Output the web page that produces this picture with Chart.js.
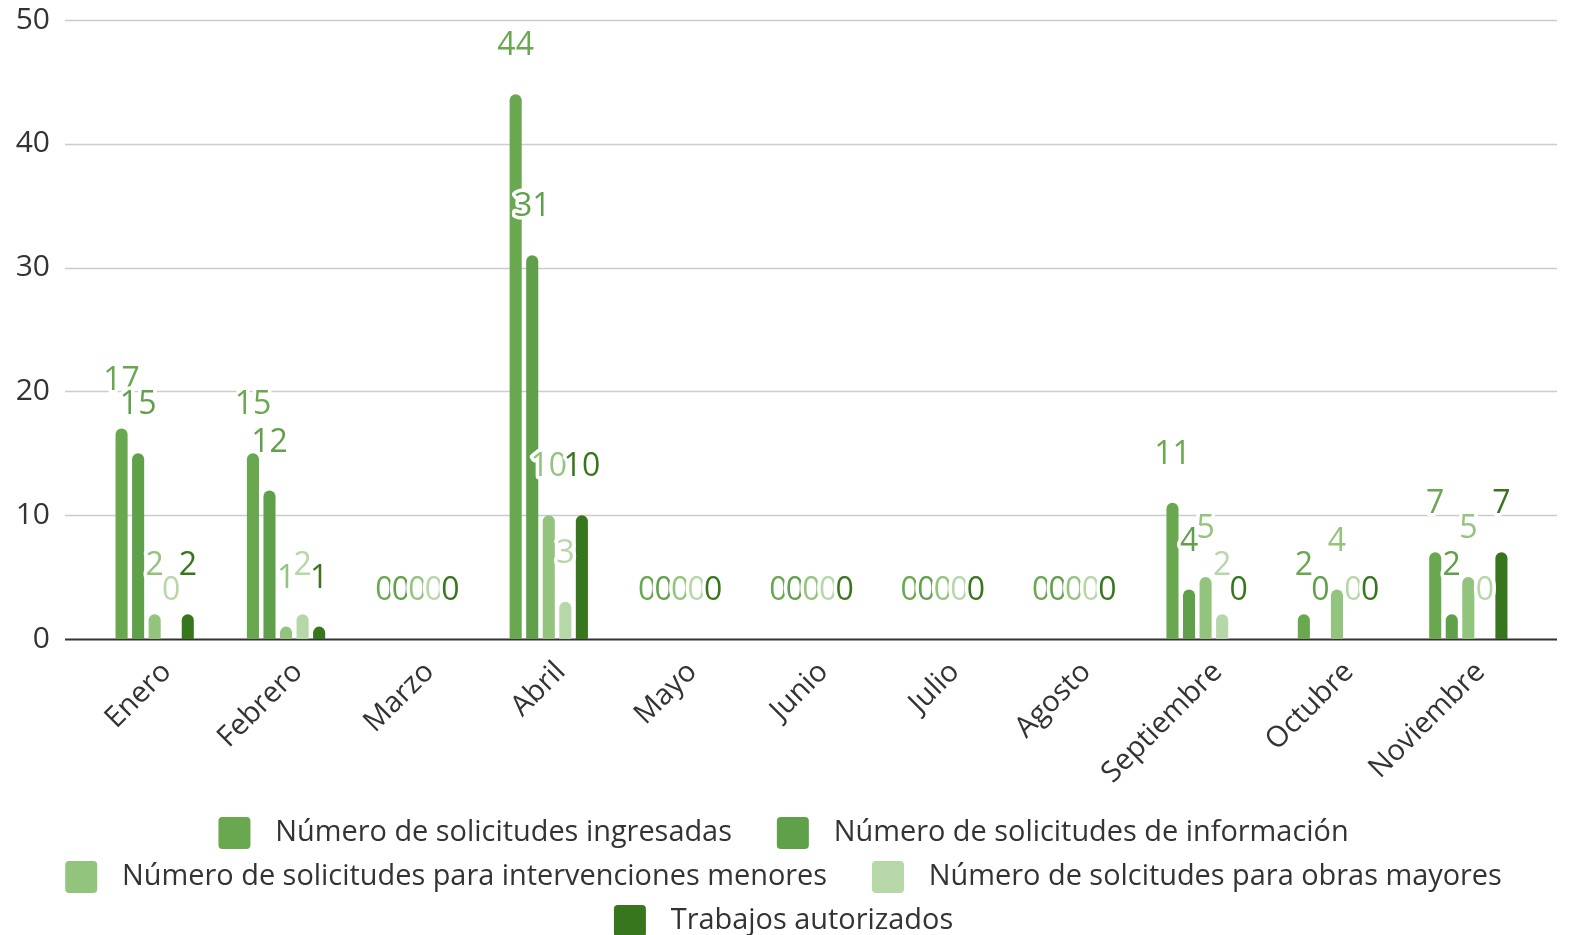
<!DOCTYPE html>
<html>
<head>
<meta charset="utf-8">
<script src="https://cdn.jsdelivr.net/npm/chart.js@4"></script>
<style>
  html, body { margin: 0; padding: 0; background: #fff; }
  #wrap { width: 1580px; height: 935px; }
</style>
</head>
<body>
<div id="wrap"><canvas id="chart"></canvas></div>
<script>
const months = ["Enero", "Febrero", "Marzo", "Abril", "Mayo", "Junio", "Julio", "Agosto", "Septiembre", "Octubre", "Noviembre"];
const ingresadas = [17, 15, 0, 44, 0, 0, 0, 0, 11, 2, 7];
const informacion = [15, 12, 0, 31, 0, 0, 0, 0, 4, 0, 2];
const menores = [2, 1, 0, 10, 0, 0, 0, 0, 5, 4, 5];
const mayores = [0, 2, 0, 3, 0, 0, 0, 0, 2, 0, 0];
const autorizados = [2, 1, 0, 10, 0, 0, 0, 0, 0, 0, 7];
const yTicks = [0, 10, 20, 30, 40, 50];

const seriesNames = [
  "Número de solicitudes ingresadas",
  "Número de solicitudes de información",
  "Número de solicitudes para intervenciones menores",
  "Número de solcitudes para obras mayores",
  "Trabajos autorizados"
];
const seriesColors = ["#6aa84f", "#60a04b", "#93c47d", "#b6d7a8", "#38761d"];
const seriesData = [ingresadas, informacion, menores, mayores, autorizados];

// gridlines + axis line drawn a bit wider than the bar area
const gridPlugin = {
  id: "wideGrid",
  beforeDatasetsDraw(chart) {
    const ctx = chart.ctx;
    const y = chart.scales.y;
    const left = chart.chartArea.left - 24;
    const right = chart.chartArea.right + 23;
    ctx.save();
    yTicks.forEach(v => {
      const py = Math.round(y.getPixelForValue(v)) + 0.5;
      ctx.beginPath();
      ctx.strokeStyle = v === 0 ? "#333333" : "#cccccc";
      ctx.lineWidth = v === 0 ? 2 : 1.5;
      ctx.moveTo(left, py);
      ctx.lineTo(right, py);
      ctx.stroke();
    });
    ctx.restore();
  }
};

// value labels above bars, with white halo
const labelPlugin = {
  id: "valueLabels",
  afterDatasetsDraw(chart) {
    const ctx = chart.ctx;
    ctx.save();
    ctx.font = "32px 'Open Sans'";
    ctx.textAlign = "center";
    ctx.textBaseline = "middle";
    ctx.lineJoin = "round";
    chart.data.datasets.forEach((ds, i) => {
      const meta = chart.getDatasetMeta(i);
      meta.data.forEach((bar, j) => {
        const txt = String(ds.data[j]);
        const ty = bar.y - 48;
        ctx.strokeStyle = "#ffffff";
        ctx.lineWidth = 7;
        ctx.strokeText(txt, bar.x, ty);
        ctx.fillStyle = seriesColors[i];
        ctx.fillText(txt, bar.x, ty);
      });
    });
    ctx.restore();
  }
};

// nudge the legend block a little to the right
const legendShift = {
  id: "legendShift",
  afterLayout(chart) {
    chart.legend.left += 33;
    chart.legend.right += 33;
  }
};

const datasets = seriesNames.map((name, i) => ({
  label: name,
  data: seriesData[i],
  backgroundColor: seriesColors[i],
  borderRadius: { topLeft: 6, topRight: 6 },
  borderSkipped: "start",
  categoryPercentage: 0.63,
  barPercentage: 0.73
}));

new Chart(document.getElementById("chart"), {
  type: "bar",
  data: { labels: months, datasets: datasets },
  options: {
    responsive: true,
    maintainAspectRatio: false,
    animation: false,
    layout: { padding: { top: 20, right: 46, left: 0, bottom: -12 } },
    plugins: {
      tooltip: { enabled: false },
      legend: {
        position: "bottom",
        labels: {
          color: "#333333",
          font: { family: "'Open Sans'", size: 28.9 },
          boxWidth: 32,
          boxHeight: 32,
          padding: 12,
          useBorderRadius: true,
          borderRadius: 4,
          generateLabels(chart) {
            const items = Chart.defaults.plugins.legend.labels.generateLabels(chart);
            // wider gap after the swatch and between entries
            items.forEach(it => { it.text = " \u200A" + it.text + "    \u200A"; });
            return items;
          }
        }
      }
    },
    scales: {
      x: {
        grid: { display: false, drawTicks: false },
        border: { display: false },
        afterFit(scale) { scale.height = 166; },
        ticks: {
          color: "#333333",
          font: { family: "'Open Sans'", size: 29 },
          minRotation: 45,
          maxRotation: 45,
          padding: 16,
          labelOffset: 12
        }
      },
      y: {
        min: 0,
        max: 50,
        grid: { display: false, drawTicks: false },
        border: { display: false },
        afterFit(scale) {
          scale.width = 89;
          scale.paddingTop = 14;
          scale.paddingBottom = 0;
        },
        ticks: {
          stepSize: 10,
          color: "#333333",
          font: { family: "'Open Sans'", size: 30 },
          padding: 39
        }
      }
    }
  },
  plugins: [gridPlugin, labelPlugin, legendShift]
});
</script>
</body>
</html>
